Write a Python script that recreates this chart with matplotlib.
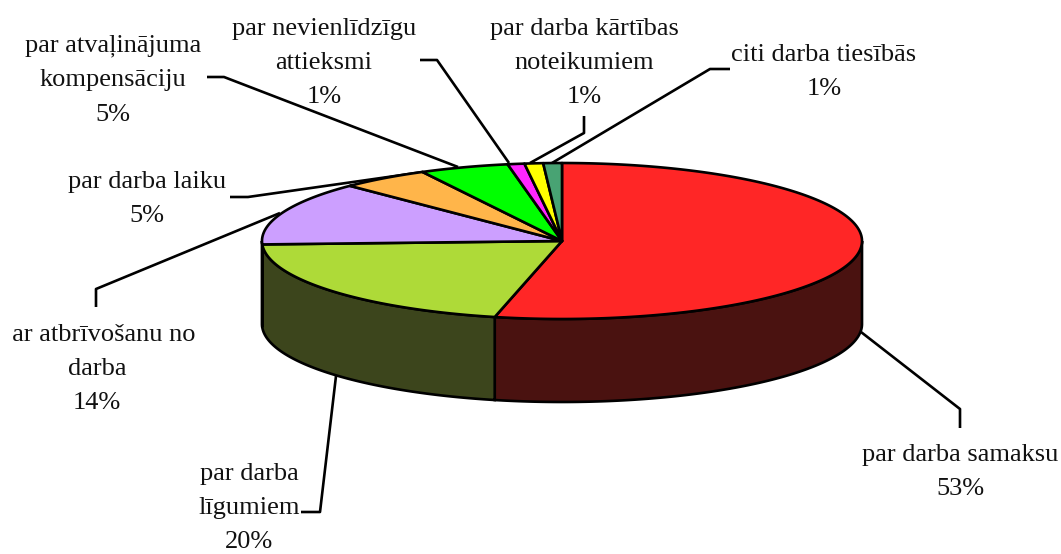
import numpy as np
import matplotlib.pyplot as plt
from matplotlib.patches import Polygon, Rectangle

plt.rcParams['font.family'] = ['Liberation Serif', 'DejaVu Serif']

shares = [53.6, 20.7, 13.2, 4.8, 4.8, 0.9, 1.0, 1.0]
percent_labels = ["53%", "20%", "14%", "5%", "5%", "1%", "1%", "1%"]
names = ["par darba samaksu", "par darba\nlīgumiem", "par atbrīvošanu no\ndarba",
         "par darba laiku", "par atvaļinājuma\nkompensāciju", "par nevienlīdzīgu\nattieksmi",
         "par darba kārtības\nnoteikumiem", "citi darba tiesībās"]
top_colors = ["#FF2626", "#AEDA38", "#CC9FFF", "#FFB54A", "#00FF00", "#FF26FF", "#FFFF00", "#48A373"]
side_colors = ["#4A1210", "#3C451C", "#3D3050", "#4D3716", "#004D00", "#4D004D", "#4D4D00", "#163122"]

# pie geometry, in pixels
cx, cy, rx, ry, depth = 562, 241, 300, 78, 83
line_w = 1.9

label_pos = [(960, 472), (249, 508), (97, 369), (147, 199), (113, 80), (324, 63), (584, 63), (824, 72)]
leaders = [
    [(861, 332), (960, 409), (960, 428)],
    [(336, 376), (320, 512), (301, 512)],
    [(280, 213), (96, 289), (96, 307)],
    [(230, 197), (248, 197), (423, 172)],
    [(207, 77), (224, 77), (458, 167)],
    [(420, 60), (437, 60), (509, 163)],
    [(584, 116), (584, 133), (530, 163)],
    [(552, 163), (710, 69), (730, 69)],
]


def rim(t0, t1, shift=0.0):
    t = np.radians(np.linspace(t0, t1, 200))
    return np.column_stack([cx + rx * np.sin(t), cy - ry * np.cos(t) + shift])


fig = plt.figure(figsize=(10.61, 5.54), dpi=100)
ax = fig.add_axes([0, 0, 1, 1])
ax.set_xlim(0, 1061)
ax.set_ylim(554, 0)
ax.axis("off")

edges = np.cumsum([0] + shares) / sum(shares) * 360

# side walls, only the front half of the rim shows
for i in range(len(shares)):
    t0, t1 = max(edges[i], 90), min(edges[i + 1], 270)
    if t0 < t1:
        pts = np.vstack([rim(t0, t1), rim(t0, t1, depth)[::-1]])
        ax.add_patch(Polygon(pts, closed=True, fc=side_colors[i], ec="black", lw=line_w, zorder=2))

# top face
for i in range(len(shares)):
    pts = np.vstack([[(cx, cy)], rim(edges[i], edges[i + 1])])
    ax.add_patch(Polygon(pts, closed=True, fc=top_colors[i], ec="black", lw=line_w, zorder=3, joinstyle="round"))

for pts in leaders:
    xs, ys = zip(*pts)
    ax.plot(xs, ys, color="black", lw=line_w, zorder=1, solid_capstyle="butt")

clip = Rectangle((13, 0), 1048, 554, transform=ax.transData)
for name, pct, (x, y) in zip(names, percent_labels, label_pos):
    txt = ax.text(x, y, name + "\n" + pct, ha="center", va="center", ma="center",
                  fontsize=19, linespacing=1.72, color="#111111", zorder=4)
    txt.set_clip_path(clip)
    txt.set_clip_on(True)

fig.savefig("out.png", dpi=100, facecolor="white")
